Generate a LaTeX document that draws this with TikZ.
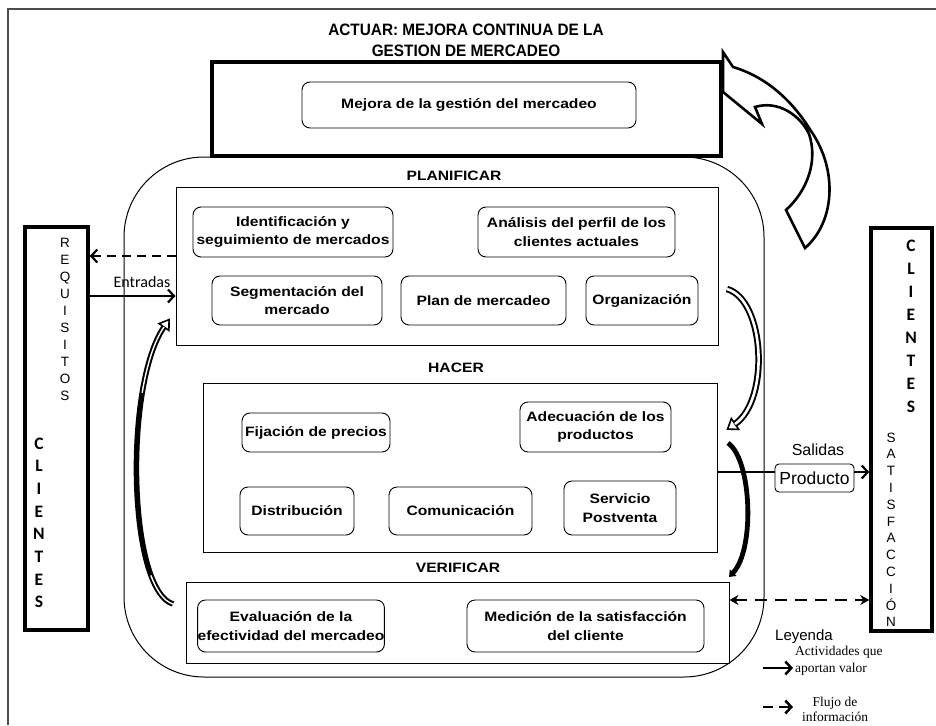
\documentclass[tikz,border=0pt]{standalone}
\usepackage{fontspec}
\setmainfont{Liberation Sans}
\newfontfamily\boxfont[FakeStretch=1.15]{Liberation Sans}
\newfontfamily\titlefont[FakeStretch=0.93]{Liberation Sans}
\newfontfamily\calfont{Carlito}
\newfontfamily\serfont{Liberation Serif}
\usetikzlibrary{arrows.meta,calc}
\begin{document}
\begin{tikzpicture}[x=1pt,y=-1pt,
  ibox/.style={draw, line width=0.9pt, rounded corners=8pt, inner sep=0pt, align=center,
    font=\boxfont\bfseries\fontsize{13.6}{18.5}\selectfont},
  sbox/.style={draw, line width=1pt, inner sep=0pt},
  tbox/.style={draw, line width=3.5pt, inner sep=0pt},
  lbl/.style={font=\boxfont\bfseries\fontsize{13.6}{16}\selectfont, inner sep=0pt},
  reqletter/.style={font=\fontsize{13.5}{16}\selectfont, inner sep=0pt, anchor=base},
  cliletter/.style={font=\calfont\bfseries\fontsize{17.5}{20}\selectfont, inner sep=0pt, anchor=base},
  barb/.style={-{Straight Barb[length=6pt,width=13pt]}},
  band/.style={line width=6.5pt},
  bandin/.style={line width=2.6pt, white},
  headst/.style={line width=1.6pt, fill=white, line join=miter}
]
\useasboundingbox (0,0) rectangle (936,725);
% outer frame
\draw[line width=1.2pt, black!70] (8,725) -- (8,9) -- (936,9);
% title
\node[font=\titlefont\bfseries\fontsize{16.5}{21}\selectfont, align=center, inner sep=0pt] (title) at (466,40.5)
  {ACTUAR: MEJORA CONTINUA DE LA\\GESTION DE MERCADEO};
% ACTUAR box
\node[tbox, minimum width=509pt, minimum height=94pt] (act) at (466.5,109) {};
\node[ibox, minimum width=334pt, minimum height=46pt] (mej) at (469,105) {Mejora de la gestión del mercadeo};
% big cycle box
\node[draw, line width=1pt, rounded corners=80pt, inner sep=0pt, minimum width=640pt, minimum height=520pt] (cyc) at (444,417) {};
% PLANIFICAR
\node[lbl] (planlbl) at (454,176) {PLANIFICAR};
\node[sbox, minimum width=542pt, minimum height=158pt] (plan) at (447,266) {};
\node[ibox, minimum width=200pt, minimum height=50pt] (ident) at (293,232) {Identificación y\\seguimiento de mercados};
\node[ibox, minimum width=197pt, minimum height=50pt] (anal) at (576.5,232) {Análisis del perfil de los\\clientes actuales};
\node[ibox, minimum width=170pt, minimum height=49pt] (segm) at (297,300.5) {Segmentación del\\mercado};
\node[ibox, minimum width=165pt, minimum height=49pt] (planm) at (483.5,300.5) {Plan de mercadeo};
\node[ibox, minimum width=112pt, minimum height=49pt] (organ) at (642,300.5) {Organización};
% HACER
\node[lbl] (hacerlbl) at (456,368) {HACER};
\node[sbox, minimum width=514pt, minimum height=169pt] (hacer) at (460,467.5) {};
\node[ibox, minimum width=148pt, minimum height=39pt] (fij) at (316,432.5) {Fijación de precios};
\node[ibox, minimum width=151pt, minimum height=50pt] (adec) at (595.5,427) {Adecuación de los\\productos};
\node[ibox, minimum width=114pt, minimum height=48pt] (distr) at (297,511) {Distribución};
\node[ibox, minimum width=143pt, minimum height=48pt] (comu) at (460.5,511) {Comunicación};
\node[ibox, minimum width=112pt, minimum height=54pt] (serv) at (620,508) {Servicio\\Postventa};
% VERIFICAR
\node[lbl] (veriflbl) at (458,568) {VERIFICAR};
\node[sbox, minimum width=543pt, minimum height=81pt] (verif) at (457.5,622.5) {};
\node[ibox, minimum width=184pt, minimum height=52pt] (eval) at (291,626) {Evaluación de la\\efectividad del mercadeo};
\node[ibox, minimum width=237pt, minimum height=52pt] (medic) at (585.5,626) {Medición de la satisfacción\\del cliente};
% side boxes
\node[tbox, minimum width=63pt, minimum height=403pt] (req) at (56.5,428.5) {};
\node[tbox, minimum width=61pt, minimum height=403pt] (cli) at (901.5,429.5) {};
\foreach \l [count=\i from 0] in {R,E,Q,U,I,S,I,T,O,S}
  \node[reqletter] (rq\i) at (65,{247+17*\i}) {\l};
\foreach \l [count=\i from 0] in {C,L,I,E,N,T,E,S}
  \node[cliletter] (lc\i) at (39,{449+22.7*\i}) {\l};
\foreach \l [count=\i from 0] in {C,L,I,E,N,T,E,S}
  \node[cliletter] (rc\i) at (911,{251+23.1*\i}) {\l};
\foreach \l [count=\i from 0] in {S,A,T,I,S,F,A,C,C,I,Ó,N}
  \node[reqletter] (st\i) at (891,{442+16.8*\i}) {\l};
% helper coordinates
\coordinate (y256) at (0,256);
\coordinate (y296) at (0,296);
\coordinate (y472) at (0,472);
\coordinate (y600) at (0,600);
% inputs
\draw[line width=2.2pt, dash pattern=on 9pt off 6pt, barb] (plan.west |- y256) -- (req.east |- y256);
\draw[line width=2.2pt, barb] (req.east |- y296) -- (plan.west |- y296);
\node[font=\calfont\fontsize{16}{18}\selectfont, inner sep=0pt] (entr) at (142,282) {Entradas};
% outputs
\node[draw, line width=0.9pt, rounded corners=4pt, inner sep=0pt, minimum width=79pt, minimum height=28pt,
  font=\fontsize{17.5}{20}\selectfont] (prod) at (814.5,478) {\raisebox{-2pt}{Producto}};
\node[font=\fontsize{16}{18}\selectfont, inner sep=0pt] (sal) at (818,450) {Salidas};
\draw[line width=2.4pt] (hacer.east |- y472) -- (prod.west |- y472);
\draw[line width=2.2pt, barb] (prod.east |- y472) -- (cli.west |- y472);
\draw[line width=2.5pt, dash pattern=on 12pt off 8pt, {Stealth[length=9pt,width=10pt]}-{Stealth[length=9pt,width=10pt]}]
  (verif.east |- y600) -- (cli.west |- y600);
% curved arrow PLANIFICAR -> HACER (hollow)
\coordinate (a1s) at (727,289);
\coordinate (a1e) at (735,424);
\draw[band] (a1s) .. controls (765,300) and (770,400) .. (a1e);
\draw[headst] (731.3,418.6) -- (727.6,429.1) -- (738.7,429.4) -- cycle;
\draw[bandin] (a1s) .. controls (765,300) and (770,400) .. (a1e);
% curved arrow HACER -> VERIFICAR (solid)
\coordinate (a2s) at (728,443);
\coordinate (a2e) at (729,577);
\draw[line width=4.8pt, -{Triangle[length=6pt,width=9pt]}] (a2s) .. controls (752,460) and (755,550) .. (a2e);
% curved arrow VERIFICAR -> PLANIFICAR (left)
\coordinate (a3s) at (173,604);
\coordinate (a3e) at (164,327);
\draw[line width=5.5pt] (a3s) .. controls (128,590) and (124,385) .. (a3e);
\draw[headst] (168.9,330.4) -- (169.1,319.6) -- (159.1,323.6) -- cycle;
\draw[line width=1.4pt, white] (a3s) .. controls (164,601.2) and (156.6,590.8) .. (150.9,575.4);
\draw[line width=1.4pt, white] (a3e) .. controls (154,341.5) and (146.75,365.2) .. (142.2,392.8);
% ACTUAR curved block arrow
\draw[line width=2.6pt, line join=miter, fill=white] (723,52) -- (723,92) -- (762,124) -- (755,107)
  .. controls (778,100) and (800,115) .. (809,134)
  .. controls (818,160) and (808,190) .. (786,210) -- (805,248)
  .. controls (835,222) and (838,170) .. (811,131)
  .. controls (795,105) and (770,78) .. (733,67) -- cycle;
% legend
\node[font=\fontsize{15}{17}\selectfont, inner sep=0pt, anchor=west] (ley) at (775,637) {Leyenda};
\node[font=\serfont\fontsize{13.5}{17}\selectfont, inner sep=0pt, anchor=north west, align=left] (leg1) at (795,646)
  {Actividades que\\aportan valor};
\node[font=\serfont\fontsize{13.5}{15}\selectfont, inner sep=0pt, anchor=north, align=center] (leg2) at (835,697)
  {Flujo de\\información};
\coordinate (l1s) at (763,668);
\coordinate (l1e) at (793,668);
\coordinate (l2s) at (763,707);
\coordinate (l2e) at (793,707);
\draw[line width=2.5pt, barb] (l1s) -- (l1e);
\draw[line width=2.5pt, dash pattern=on 10pt off 6pt, barb] (l2s) -- (l2e);
\end{tikzpicture}
\end{document}
